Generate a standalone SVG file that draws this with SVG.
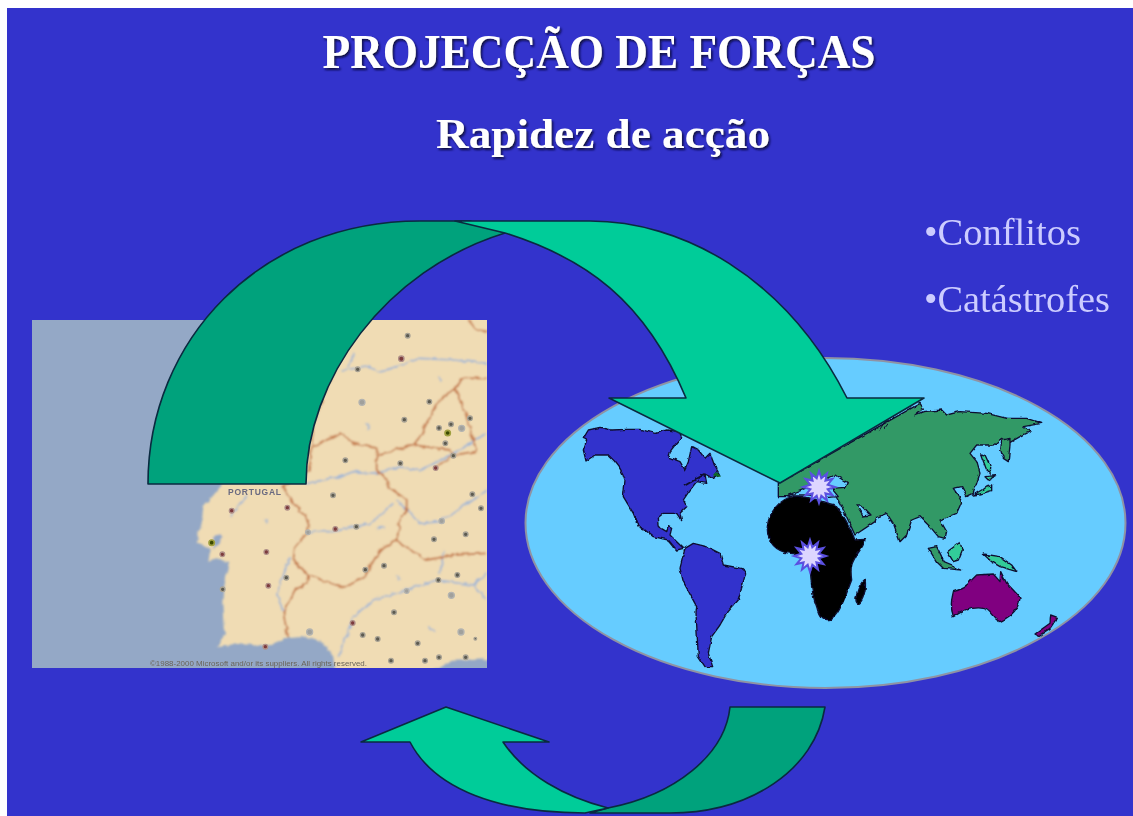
<svg xmlns="http://www.w3.org/2000/svg" width="1133" height="816" viewBox="0 0 1133 816">
<style>
.title{font-family:"Liberation Serif","Times New Roman",serif;font-weight:bold;fill:#fff;filter:url(#shadow)}
.bullet{font-family:"Liberation Serif","Times New Roman",serif;font-size:38px;fill:#ccccff;filter:url(#softtext)}
.dark{fill:#00a27c;stroke:#0a2a40;stroke-width:1.6;stroke-linejoin:round}
.light{fill:#00cc99;stroke:#0a2a40;stroke-width:1.6;stroke-linejoin:round}
.border{fill:none;stroke:#c47a4c;stroke-width:5.5;stroke-linejoin:round}
.river{fill:none;stroke:#9fb6d6;stroke-width:5}
.d{fill:#5c5a50;stroke:#a8a294;stroke-width:4}
.m{fill:#7c3a3c;stroke:#b09088;stroke-width:4}
.g{fill:#a0a09c;stroke:#b4b4b0;stroke-width:4}
.o{fill:#3a4a00;stroke:#a0a040;stroke-width:5}
.cont{stroke:#101030;stroke-width:4;stroke-linejoin:round}
.star{fill:#ddd6ff;stroke:#5a50e0;stroke-width:2;filter:url(#softtext)}
</style>
<defs>
<filter id="shadow" x="-5%" y="-20%" width="110%" height="140%"><feGaussianBlur in="SourceGraphic" stdDeviation="0.6" result="b"/><feDropShadow in="b" dx="1.5" dy="2" stdDeviation="0.8" flood-color="#101040"/></filter>
<filter id="softtext"><feGaussianBlur stdDeviation="0.45"/></filter>
<filter id="roughmap" x="-2%" y="-2%" width="104%" height="104%"><feTurbulence type="fractalNoise" baseFrequency="0.05" numOctaves="2" seed="4" result="n"/><feDisplacementMap in="SourceGraphic" in2="n" scale="14" xChannelSelector="R" yChannelSelector="G"/><feGaussianBlur stdDeviation="2.6"/></filter>
<filter id="softdots"><feGaussianBlur stdDeviation="1.6"/></filter>
<filter id="rough" x="-3%" y="-3%" width="106%" height="106%"><feTurbulence type="fractalNoise" baseFrequency="0.05" numOctaves="2" seed="7" result="n"/><feDisplacementMap in="SourceGraphic" in2="n" scale="10" xChannelSelector="R" yChannelSelector="G"/><feGaussianBlur stdDeviation="1.8"/></filter>
<polygon id="burst" class="star" points="16,0 8.7,2.3 13.5,8 6.4,6.4 8,13.5 2.3,8.7 0,16 -2.3,8.7 -8,13.5 -6.4,6.4 -13.5,8 -8.7,2.3 -16,0 -8.7,-2.3 -13.5,-8 -6.4,-6.4 -8,-13.5 -2.3,-8.7 0,-16 2.3,-8.7 8,-13.5 6.4,-6.4 13.5,-8 8.7,-2.3"/>
</defs>
<rect width="1133" height="816" fill="#ffffff"/>
<rect x="7" y="8" width="1126" height="808" fill="#3333cc"/>

<g id="titulo"><text class="title" x="599" y="68" font-size="48" text-anchor="middle" textLength="553" lengthAdjust="spacingAndGlyphs">PROJECÇÃO DE FORÇAS</text></g>
<g id="subtitulo"><text class="title" x="603" y="148" font-size="43" text-anchor="middle" textLength="334" lengthAdjust="spacingAndGlyphs">Rapidez de acção</text></g>
<g id="lista">
<text class="bullet" x="924" y="245" textLength="157" lengthAdjust="spacingAndGlyphs">•Conflitos</text>
<text class="bullet" x="924" y="312" textLength="186" lengthAdjust="spacingAndGlyphs">•Catástrofes</text>
</g>

<g id="mapa-portugal">
<rect x="32" y="320" width="455" height="348" fill="#94a8c6"/>
<svg x="32" y="320" width="455" height="348" viewBox="36 30 1365 1044">
<g filter="url(#roughmap)">
<path fill="#f0dcb4" d="M640 -20L1460 -20L1460 1045L1300 1052L1210 1090L945 1090L940 1040L910 1000L860 980L800 985L740 1010L650 1000L595 1012L615 970L610 880L615 800L628 760L590 745L565 752L572 720L530 695L545 640L550 590L590 540L620 500Z"/>
<path fill="#94a8c6" d="M580 680L605 672L600 700L580 720Z"/>
<g class="river">
<path d="M965 180L1050 170L1075 188L1130 170L1200 145L1300 150L1400 160"/><path d="M1003 130L985 170"/>
<path d="M860 520L960 500L1000 485L1070 490L1140 470L1200 482L1300 430L1400 370"/>
<path d="M860 665L940 665L1050 640L1120 580"/><path d="M1130 570L1200 640L1260 635L1400 540"/>
<path d="M1000 920L1060 870L1160 840L1250 810L1360 825L1400 790"/><path d="M1000 920L965 1020L955 1040"/>
<path d="M1272 720L1260 790"/><path d="M810 740L770 850L790 910"/><path d="M1360 825L1400 870"/><path d="M630 620L680 555"/>
<path d="M1255 200L1265 215M1040 340L1045 360M735 625L742 640M1130 795L1140 810M1070 655L1095 652M1225 950L1245 965"/>
</g>
<g class="border">
<path d="M950 170L920 230L880 340L875 410L870 480L790 530L820 580L865 630L860 670L825 710L820 750L865 795L860 820L825 840L790 910L805 985"/>
<path d="M880 410L960 370L1000 400L1070 415L1070 480L1100 510L1105 530L1160 570L1160 600L1135 640L1140 660L1125 690L1080 720L1050 770L1035 800L970 835L920 815L870 795"/>
<path d="M1125 690L1220 750L1300 735L1400 730"/>
<path d="M1070 435L1180 405L1290 420L1300 435L1250 470"/><path d="M1300 435L1370 425L1340 320L1305 235L1250 280L1200 380L1180 405"/>
<path d="M1305 235L1330 205L1400 205"/><path d="M1345 30L1370 60L1400 65"/>
</g>
</g>
<g filter="url(#softdots)">
<circle class="d" cx="1163" cy="77" r="7"/><circle class="d" cx="1013" cy="178" r="7"/><circle class="d" cx="1228" cy="275" r="7"/><circle class="d" cx="1153" cy="329" r="7"/><circle class="d" cx="1257" cy="354" r="7"/><circle class="d" cx="1293" cy="343" r="7"/><circle class="d" cx="1350" cy="325" r="7"/><circle class="d" cx="1276" cy="400" r="7"/><circle class="d" cx="1300" cy="437" r="7"/><circle class="d" cx="1141" cy="460" r="7"/><circle class="d" cx="976" cy="451" r="7"/><circle class="d" cx="939" cy="556" r="7"/><circle class="d" cx="1009" cy="650" r="7"/><circle class="d" cx="1357" cy="553" r="7"/><circle class="d" cx="1383" cy="595" r="7"/><circle class="d" cx="1242" cy="688" r="7"/><circle class="d" cx="1337" cy="673" r="7"/><circle class="d" cx="1092" cy="767" r="7"/><circle class="d" cx="1036" cy="779" r="7"/><circle class="d" cx="799" cy="803" r="7"/><circle class="d" cx="1255" cy="810" r="7"/><circle class="d" cx="1312" cy="795" r="7"/><circle class="d" cx="1122" cy="907" r="7"/><circle class="d" cx="1028" cy="975" r="7"/><circle class="d" cx="1073" cy="987" r="7"/><circle class="d" cx="1193" cy="1000" r="7"/><circle class="d" cx="1113" cy="1052" r="7"/><circle class="d" cx="1215" cy="1052" r="7"/><circle class="d" cx="1257" cy="1042" r="7"/><circle class="d" cx="1337" cy="1042" r="7"/><circle class="d" cx="608" cy="838" r="7"/><circle class="d" cx="1366" cy="986" r="4"/>
<circle class="m" cx="1144" cy="146" r="8"/><circle class="m" cx="1247" cy="474" r="7"/><circle class="m" cx="635" cy="602" r="7"/><circle class="m" cx="802" cy="593" r="7"/><circle class="m" cx="946" cy="657" r="7"/><circle class="m" cx="739" cy="726" r="7"/><circle class="m" cx="607" cy="733" r="7"/><circle class="m" cx="745" cy="827" r="7"/><circle class="m" cx="998" cy="939" r="7"/><circle class="m" cx="736" cy="1010" r="7"/>
<circle class="g" cx="1026" cy="277" r="9"/><circle class="g" cx="1325" cy="355" r="9"/><circle class="g" cx="1265" cy="633" r="8"/><circle class="g" cx="864" cy="667" r="7"/><circle class="g" cx="1160" cy="843" r="7"/><circle class="g" cx="1294" cy="856" r="9"/><circle class="g" cx="869" cy="966" r="9"/><circle class="g" cx="1323" cy="966" r="9"/>
<circle class="o" cx="1283" cy="369" r="8"/><circle class="o" cx="575" cy="698" r="8"/>
</g>
</svg>
<text x="228" y="495" font-family="Liberation Sans, Arial, sans-serif" font-size="8.5" font-weight="bold" fill="#6a6a80" textLength="53" filter="url(#softtext)">PORTUGAL</text>
<text x="150" y="666" font-family="Liberation Sans, Arial, sans-serif" font-size="6.5" fill="#6a6458" textLength="217" lengthAdjust="spacingAndGlyphs" filter="url(#softtext)">©1988-2000 Microsoft and/or its suppliers. All rights reserved.</text>
</g>

<g id="mapa-mundo">
<ellipse cx="825.5" cy="523" rx="300" ry="165" fill="#66ccff" stroke="#8f93a4" stroke-width="2"/>
<g transform="translate(520 350) scale(0.33333)" filter="url(#rough)">
<path class="cont" fill="#3333cc" d="M190 265L205 240L240 232L275 240L320 238L360 238L405 250L440 240L478 245L485 262L465 285L450 305L447 322L480 335L495 360L505 335L515 290L535 300L555 325L570 310L585 350L600 375L580 385L555 372L560 400L530 395L510 420L490 450L500 470L480 490L485 512L470 490L430 490L412 505L415 530L440 545L445 530L455 535L450 555L470 575L490 595L470 600L445 570L400 560L375 540L355 530L340 490L310 440L315 390Q305 350 265 315L225 315L198 333L190 300L200 270Z"/>
<path d="M340 485L358 530" stroke="#101030" stroke-width="4" fill="none"/>
<path d="M492 408L555 372" stroke="#101030" stroke-width="6" fill="none"/>
<path d="M578 380L590 365L603 380Z" fill="#0a6a20"/>
<path class="cont" fill="#3333cc" d="M495 595L520 580L560 590L600 610L610 645L665 655L678 665L670 695L655 750L620 790L600 825L575 860L565 910L578 950L555 950L535 920L528 790L530 770L490 695L480 655L490 615Z"/>
</g>
<g transform="translate(760 380) scale(0.33333)" filter="url(#rough)">
<path class="cont" fill="#339966" d="M55 310L55 350L85 350L130 335L145 340L180 350L225 345L240 370L255 400L285 465L345 425L350 412L380 400L400 430L420 485L440 465L455 420L480 410L510 440L535 470L555 475L560 455L540 420L590 400L605 365L590 340L580 325L605 320L620 350L640 340L660 280L650 245L630 220L650 195L700 195L725 175L745 190L780 170L810 155L790 140L845 130L800 115L740 115L680 100L600 95L560 105L545 90L490 95L465 105L490 85L480 70Z"/>
<path class="cont" fill="#339966" d="M725 180L750 175L750 195L745 245L730 235L722 210Z"/>
<path class="cont" fill="#66ccff" stroke-width="1.5" d="M85 345L150 320L225 285L262 308L255 322L215 325L235 350L205 352L150 345Z"/>
<path class="cont" fill="#66ccff" stroke-width="1.5" d="M290 375L302 375L330 405L310 408Z"/>
<path class="cont" fill="#339966" d="M505 505L530 500L545 530L545 545L605 570L550 565L530 545Z"/>
<path d="M355 155L375 125L400 115M370 150L385 130" stroke="#101030" stroke-width="3" fill="none"/>
<path class="cont" fill="#000" d="M100 350C60 355 25 400 22 440C20 490 50 515 90 520C115 520 135 530 150 560C155 600 150 630 170 680C178 715 190 722 215 718C240 700 260 640 275 600C270 560 275 550 290 525C305 505 315 490 315 478L285 480C270 440 255 410 225 375C190 370 150 345 100 350Z"/>
<path class="cont" fill="#000" d="M315 598C320 625 310 665 295 672C280 665 290 620 315 598Z"/>
<path class="cont" fill="#33cc99" d="M662 222L675 225L692 262L690 285L678 265Z"/>
<path class="cont" fill="#33cc99" d="M640 345L665 330L680 318L695 315L695 332L660 342Z"/>
<path class="cont" fill="#33cc99" d="M675 290L708 287L685 300Z"/>
<path class="cont" fill="#33cc99" d="M562 515L600 487L607 510L595 540L580 545Z"/>
<path class="cont" fill="#33cc99" d="M670 522L720 530L755 555L770 575L720 560L695 545Z"/>
<path class="cont" fill="#800080" d="M580 635C600 630 620 620 635 600L650 585L700 582L720 605L722 575L740 610C760 630 775 645 780 655C775 685 760 705 720 725C700 720 690 685 670 685C640 680 610 690 580 710Q572 680 575 660Z"/>
<path class="cont" fill="#800080" d="M825 762L870 730L872 705L892 712L870 745L835 768Z"/>
</g>
<use href="#burst" x="819" y="487"/>
<use href="#burst" x="810" y="556"/>
</g>

<g id="connectors">
<g id="seta-grande">
<path class="dark" d="M148 484C148 340 260 221 420 221L470 221L505 233C385 270 306 380 306 484Z"/>
<path class="light" d="M455 221L590 221C680 221 785 275 847 398L924 398L780 483L609 398L686 398C645 300 585 258 505 233Z"/>
</g>
<g id="seta-pequena">
<path class="dark" d="M730 707L825 707C815 770 750 813 670 813L590 813L608 808C675 795 725 755 730 707Z"/>
<path class="light" d="M361 742L446 707L549 742L503 742C525 775 565 797 608 808L585 813C500 813 435 790 410 742Z"/>
</g>
</g>
</svg>
